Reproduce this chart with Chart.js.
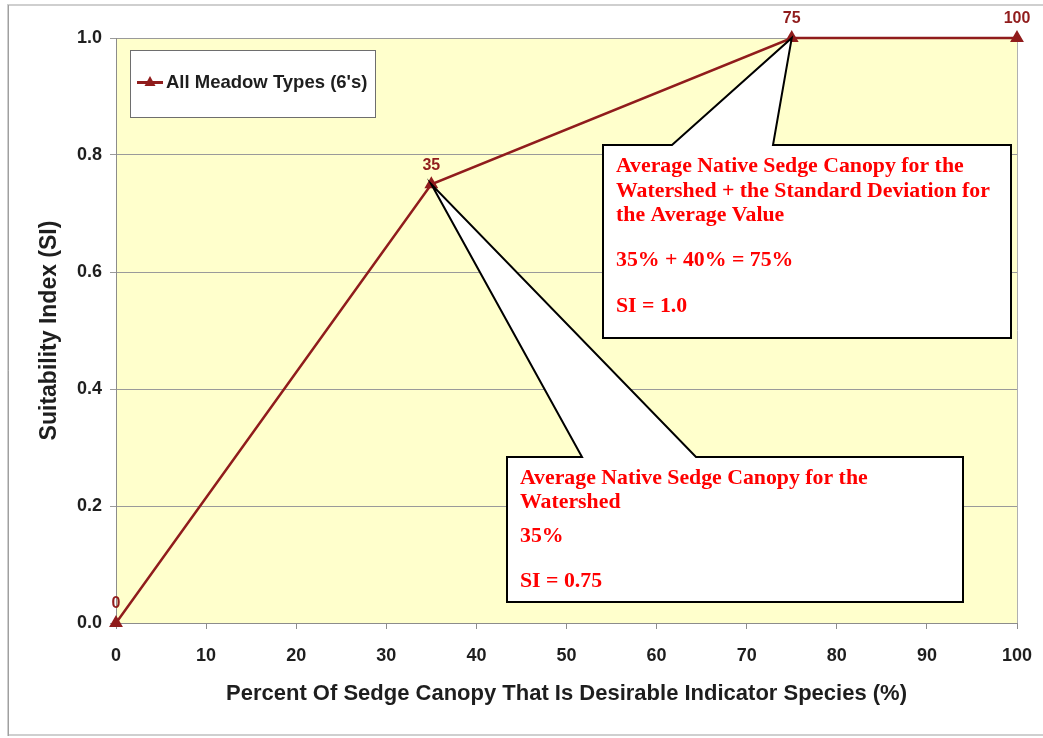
<!DOCTYPE html>
<html>
<head>
<meta charset="utf-8">
<script src="https://cdn.jsdelivr.net/npm/chart.js@4/dist/chart.umd.min.js"></script>
<style>
  html, body { margin: 0; padding: 0; background: #fff; }
  #wrap { width: 1043px; height: 738px; position: relative; }
</style>
</head>
<body>
<div id="wrap"><canvas id="siChart" width="1043" height="738"></canvas></div>
<script>
const pctCanopy = [0, 35, 75, 100];
const suitIndex = [0, 0.75, 1.0, 1.0];
const seriesName = "All Meadow Types (6's)";
const xTitle = 'Percent Of Sedge Canopy That Is Desirable Indicator Species (%)';
const yTitle = 'Suitability Index (SI)';

const callout75 = ['Average Native Sedge Canopy for the', 'Watershed + the Standard Deviation for', 'the Average Value', '', '35% + 40% = 75%', '', 'SI = 1.0'];
const callout35 = ['Average Native Sedge Canopy for the', 'Watershed', '35%', '', 'SI = 0.75'];

const lineColor = '#901c1c';
const textColor = '#1e1e1e';

// frame, plot background, right border
const backdrop = {
  id: 'backdrop',
  beforeDraw(chart) {
    const { ctx, chartArea: a } = chart;
    ctx.save();
    ctx.fillStyle = '#fff';
    ctx.fillRect(0, 0, chart.width, chart.height);
    ctx.strokeStyle = '#cfcfcf';
    ctx.lineWidth = 2;
    ctx.beginPath();
    ctx.moveTo(8, 736); ctx.lineTo(8, 5); ctx.lineTo(1043, 5);
    ctx.moveTo(8, 735); ctx.lineTo(1043, 735);
    ctx.stroke();
    ctx.strokeStyle = '#a0a0a0';
    ctx.lineWidth = 1;
    ctx.beginPath();
    ctx.moveTo(8.5, 5); ctx.lineTo(8.5, 736);
    ctx.stroke();
    ctx.fillStyle = '#ffffcc';
    ctx.fillRect(a.left, a.top, a.right - a.left, a.bottom - a.top);
    ctx.strokeStyle = '#b0b0b0';
    ctx.beginPath();
    ctx.moveTo(a.right + 0.5, a.top); ctx.lineTo(a.right + 0.5, a.bottom);
    ctx.stroke();
    ctx.restore();
  }
};

function calloutBox(ctx, box, base, tip, lines, lh) {
  ctx.save();
  ctx.beginPath();
  ctx.moveTo(box.l, box.t);
  ctx.lineTo(base[0], box.t);
  ctx.lineTo(tip.x, tip.y);
  ctx.lineTo(base[1], box.t);
  ctx.lineTo(box.r, box.t);
  ctx.lineTo(box.r, box.b);
  ctx.lineTo(box.l, box.b);
  ctx.closePath();
  ctx.fillStyle = '#fff';
  ctx.fill();
  ctx.strokeStyle = '#000';
  ctx.lineWidth = 2;
  ctx.lineJoin = 'miter';
  ctx.stroke();
  // fit serif font so the first line is as wide as in the picture
  ctx.font = 'bold 100px "Liberation Serif"';
  const size = 100 * 347 / ctx.measureText(lines[0]).width;
  ctx.font = 'bold ' + size.toFixed(1) + 'px "Liberation Serif"';
  ctx.fillStyle = '#ff0000';
  ctx.textBaseline = 'alphabetic';
  let y = box.firstBase;
  lines.forEach((ln, i) => {
    if (ln) ctx.fillText(ln, box.l + 13, y);
    y += lh[i] || 24;
  });
  ctx.restore();
}

const overlays = {
  id: 'overlays',
  afterDatasetsDraw(chart) {
    const { ctx, scales: { x, y } } = chart;
    const pts = chart.getDatasetMeta(0).data;

    // point labels
    ctx.save();
    ctx.font = 'bold 16px "Liberation Sans"';
    ctx.fillStyle = lineColor;
    ctx.textAlign = 'center';
    ctx.textBaseline = 'middle';
    pts.forEach((p, i) => ctx.fillText(String(pctCanopy[i]), p.x, p.y - 19));
    ctx.restore();

    // legend box
    ctx.save();
    ctx.fillStyle = '#fff';
    ctx.fillRect(130, 50, 245, 67);
    ctx.strokeStyle = '#6e6e6e';
    ctx.lineWidth = 1;
    ctx.strokeRect(130.5, 50.5, 245, 67);
    ctx.strokeStyle = lineColor;
    ctx.lineWidth = 3;
    ctx.beginPath(); ctx.moveTo(137, 82.5); ctx.lineTo(163, 82.5); ctx.stroke();
    ctx.fillStyle = lineColor;
    ctx.beginPath(); ctx.moveTo(150, 76); ctx.lineTo(155.5, 86); ctx.lineTo(144.5, 86); ctx.closePath(); ctx.fill();
    ctx.fillStyle = textColor;
    ctx.font = 'bold 18.5px "Liberation Sans"';
    ctx.textBaseline = 'middle';
    ctx.fillText(seriesName, 166, 83);
    ctx.restore();

    calloutBox(ctx, { l: 603, t: 145, r: 1011, b: 338, firstBase: 172 }, [672, 773],
      { x: x.getPixelForValue(pctCanopy[2]), y: y.getPixelForValue(suitIndex[2]) },
      callout75, [25, 24, 22, 23, 23, 23]);
    calloutBox(ctx, { l: 507, t: 457, r: 963, b: 602, firstBase: 484 }, [582, 696],
      { x: x.getPixelForValue(pctCanopy[1]), y: y.getPixelForValue(suitIndex[1]) },
      callout35, [24, 34, 22, 23]);
  }
};

new Chart(document.querySelector('#siChart'), {
  type: 'line',
  data: {
    datasets: [
      {
        label: seriesName,
        data: pctCanopy.map((v, i) => ({ x: v, y: suitIndex[i] })),
        borderColor: lineColor,
        backgroundColor: lineColor,
        borderWidth: 2.5,
        pointStyle: 'triangle',
        pointRadius: 5.5,
        pointHoverRadius: 5.5,
        tension: 0,
        clip: false
      }
    ]
  },
  options: {
    responsive: false,
    animation: false,
    layout: { padding: { left: 0, right: 26, top: 38, bottom: 31 } },
    plugins: {
      legend: { display: false },
      tooltip: { enabled: false }
    },
    scales: {
      x: {
        type: 'linear',
        min: 0,
        max: 100,
        afterFit: s => { s.height = 84; s.paddingLeft = 0; s.paddingRight = 0; },
        grid: { drawOnChartArea: false, color: '#8c8c8c', tickLength: 6 },
        border: { color: '#8c8c8c' },
        ticks: {
          stepSize: 10,
          padding: 16,
          color: textColor,
          font: { family: 'Liberation Sans', size: 18, weight: 'bold' }
        },
        title: {
          display: true,
          text: xTitle,
          color: textColor,
          padding: { top: 0, bottom: 0 },
          font: { family: 'Liberation Sans', size: 22, weight: 'bold' }
        }
      },
      y: {
        min: 0,
        max: 1,
        afterFit: s => { s.width = 116; s.paddingTop = 0; s.paddingBottom = 0; },
        grid: { color: '#9a9a9a', tickLength: 6 },
        border: { color: '#8c8c8c' },
        ticks: {
          stepSize: 0.2,
          padding: 8,
          color: textColor,
          callback: v => Number(v).toFixed(1),
          font: { family: 'Liberation Sans', size: 18, weight: 'bold' }
        },
        title: {
          display: true,
          text: yTitle,
          color: textColor,
          padding: { top: 36, bottom: 0 },
          font: { family: 'Liberation Sans', size: 23, weight: 'bold' }
        }
      }
    }
  },
  plugins: [backdrop, overlays]
});
</script>
</body>
</html>
